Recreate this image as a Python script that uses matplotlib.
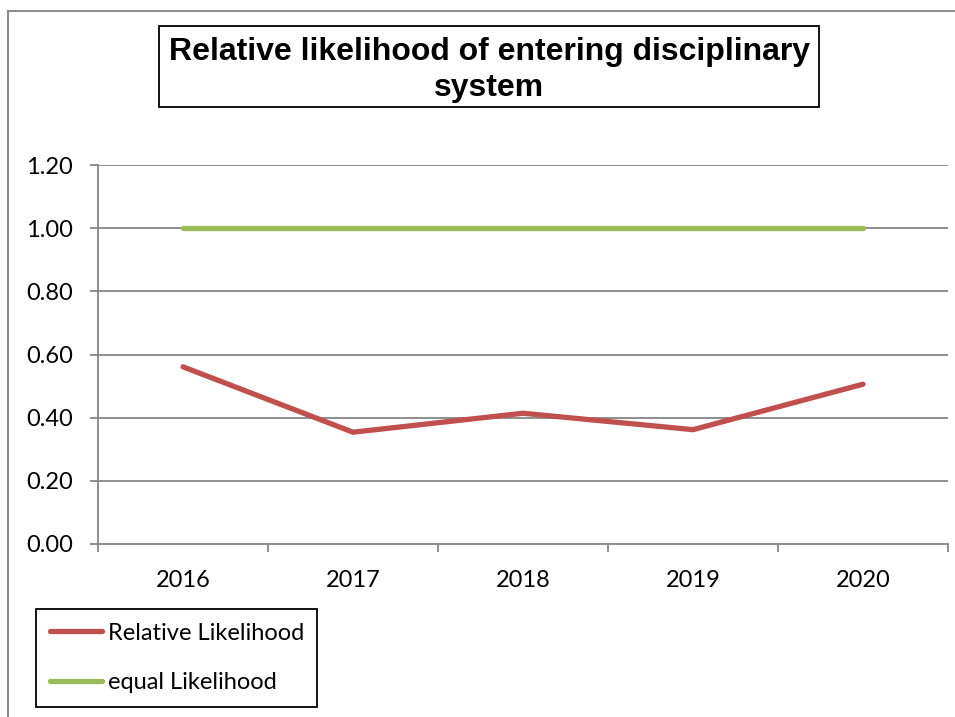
import matplotlib
matplotlib.use("Agg")
import matplotlib.pyplot as plt
from matplotlib.patches import Rectangle
from matplotlib.lines import Line2D

years = ["2016", "2017", "2018", "2019", "2020"]
relative_likelihood = [0.561, 0.354, 0.414, 0.362, 0.506]
equal_likelihood = [1.0, 1.0, 1.0, 1.0, 1.0]
y_ticks = [0.0, 0.2, 0.4, 0.6, 0.8, 1.0, 1.2]
title = "Relative likelihood of entering disciplinary\nsystem"

W, H = 955, 717
fig = plt.figure(figsize=(W / 100, H / 100), dpi=100)
fig.patch.set_facecolor("white")

def fx(px):
    return px / W

def fy(py):
    return 1 - py / H

# outer chart border (left and top visible)
fig.add_artist(Line2D([fx(8), fx(8)], [fy(11), -0.1], color="#8c8c8c", lw=1.5, transform=fig.transFigure))
fig.add_artist(Line2D([fx(8), 1.1], [fy(11), fy(11)], color="#8c8c8c", lw=1.5, transform=fig.transFigure))

ax = fig.add_axes([fx(98), fy(544), fx(948) - fx(98), fy(165) - fy(544)])
x = list(range(len(years)))
red = "#C0504D"
green = "#9BBB59"
grid = "#868686"

l1, = ax.plot(x, relative_likelihood, color=red, lw=3.8, solid_capstyle="round", solid_joinstyle="miter", label="Relative Likelihood", zorder=3)
l2, = ax.plot(x, equal_likelihood, color=green, lw=3.8, solid_capstyle="round", label="equal Likelihood", zorder=3)

ax.set_xlim(-0.5, len(years) - 0.5)
ax.set_ylim(0, 1.2)
ax.set_yticks(y_ticks)
ax.set_yticklabels([f"{v:.2f}" for v in y_ticks])
ax.set_xticks(x)
ax.set_xticklabels(years)
ax.set_xticks([i - 0.5 for i in range(len(years) + 1)], minor=True)

for v in y_ticks[1:]:
    ax.axhline(v, color=grid, lw=1.3, zorder=1)

for s in ["top", "right"]:
    ax.spines[s].set_visible(False)
for s in ["left", "bottom"]:
    ax.spines[s].set_color(grid)
    ax.spines[s].set_linewidth(1.3)

font = "Lato"
fs = 17
ax.tick_params(axis="y", direction="out", length=6, width=1.3, color=grid, pad=12, labelsize=fs)
ax.tick_params(axis="x", which="major", length=0, pad=19, labelsize=fs)
ax.tick_params(axis="x", which="minor", direction="out", length=6, width=1.3, color=grid)
for lab in ax.get_xticklabels() + ax.get_yticklabels():
    lab.set_fontfamily(font)
    lab.set_color("black")

# title box
fig.add_artist(Rectangle((fx(159), fy(107)), fx(819) - fx(159), fy(26) - fy(107),
                         transform=fig.transFigure, fill=False, edgecolor="black", lw=1.3))
fig.text(fx(489), fy(70), title, ha="center", va="center", fontsize=23, fontweight="bold",
         family="Liberation Sans", linespacing=1.22)

leg = fig.legend(handles=[l1, l2], loc="upper left", bbox_to_anchor=(fx(36), fy(609)),
                 bbox_transform=fig.transFigure, borderaxespad=0, fancybox=False,
                 edgecolor="black", framealpha=1, prop={"family": font, "size": fs},
                 handlelength=2.2, handletextpad=0.25, labelspacing=1.2, borderpad=0.58)
leg.get_frame().set_linewidth(1.3)

fig.savefig("out.png", dpi=100)
